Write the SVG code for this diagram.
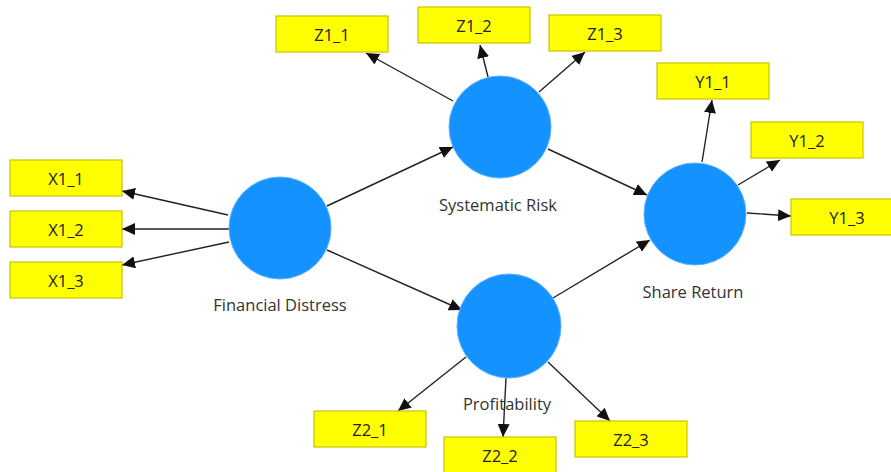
<svg xmlns="http://www.w3.org/2000/svg" width="891" height="472" viewBox="0 0 891 472">
<style>
.box rect{fill:#ffff00;stroke:#c8c400;stroke-width:1.2}
.box text{font-family:"Open Sans","Noto Sans","Liberation Sans",sans-serif;font-size:16.5px;fill:#222;text-anchor:middle;dominant-baseline:central}
.lv circle{fill:#1492ff;stroke:#5ab0ff;stroke-width:1}
.lv text{font-family:"Open Sans","Noto Sans","Liberation Sans",sans-serif;font-size:16.5px;fill:#333;text-anchor:middle}
.edges line{stroke:#222;stroke-width:1.4;marker-end:url(#ah)}
</style>
<defs>
<marker id="ah" markerUnits="userSpaceOnUse" markerWidth="14" markerHeight="12" refX="13" refY="6" orient="auto">
<path d="M0,0 L13,6 L0,12 z" fill="#111"/>
</marker>
</defs>
<rect width="891" height="472" fill="#fff"/>
<g class="edges">
<line x1="228" y1="215" x2="122" y2="191"/>
<line x1="229" y1="229" x2="122" y2="229"/>
<line x1="229" y1="242" x2="122" y2="265"/>
<line x1="327" y1="206" x2="453" y2="147"/>
<line x1="327" y1="250" x2="462" y2="310"/>
<line x1="453" y1="101" x2="366" y2="53"/>
<line x1="488" y1="77" x2="480" y2="45"/>
<line x1="539" y1="92" x2="585" y2="52"/>
<line x1="548" y1="149" x2="647" y2="195"/>
<line x1="553" y1="298" x2="650" y2="240"/>
<line x1="702" y1="162" x2="712" y2="100"/>
<line x1="738" y1="185" x2="780" y2="160"/>
<line x1="747" y1="213" x2="791" y2="216"/>
<line x1="466" y1="357" x2="398" y2="411"/>
<line x1="506" y1="378" x2="503" y2="437"/>
<line x1="548" y1="362" x2="610" y2="421"/>
</g>
<g id="FD" class="lv"><circle cx="280" cy="228" r="51"/><text x="280" y="311">Financial Distress</text></g>
<g id="SR" class="lv"><circle cx="500" cy="127" r="51"/><text x="498" y="211">Systematic Risk</text></g>
<g id="RET" class="lv"><circle cx="695" cy="214" r="51"/><text x="693" y="298">Share Return</text></g>
<g id="PR" class="lv"><circle cx="509" cy="326" r="52"/><text x="507" y="410">Profitability</text></g>
<g id="X1_1" class="box"><rect x="10" y="160" width="112" height="36"/><text x="66" y="178">X1_1</text></g>
<g id="X1_2" class="box"><rect x="10" y="211" width="112" height="36"/><text x="66" y="229">X1_2</text></g>
<g id="X1_3" class="box"><rect x="10" y="262" width="112" height="36"/><text x="66" y="280">X1_3</text></g>
<g id="Z1_1" class="box"><rect x="276" y="16" width="112" height="36"/><text x="332" y="34">Z1_1</text></g>
<g id="Z1_2" class="box"><rect x="418" y="7" width="112" height="36"/><text x="474" y="25">Z1_2</text></g>
<g id="Z1_3" class="box"><rect x="549" y="15" width="112" height="36"/><text x="605" y="33">Z1_3</text></g>
<g id="Y1_1" class="box"><rect x="657" y="63" width="112" height="36"/><text x="713" y="81">Y1_1</text></g>
<g id="Y1_2" class="box"><rect x="751" y="122" width="112" height="36"/><text x="807" y="140">Y1_2</text></g>
<g id="Y1_3" class="box"><rect x="791" y="199" width="112" height="36"/><text x="847" y="217">Y1_3</text></g>
<g id="Z2_1" class="box"><rect x="314" y="411" width="112" height="36"/><text x="370" y="429">Z2_1</text></g>
<g id="Z2_2" class="box"><rect x="444" y="437" width="112" height="36"/><text x="500" y="455">Z2_2</text></g>
<g id="Z2_3" class="box"><rect x="575" y="421" width="112" height="36"/><text x="631" y="439">Z2_3</text></g>
</svg>
